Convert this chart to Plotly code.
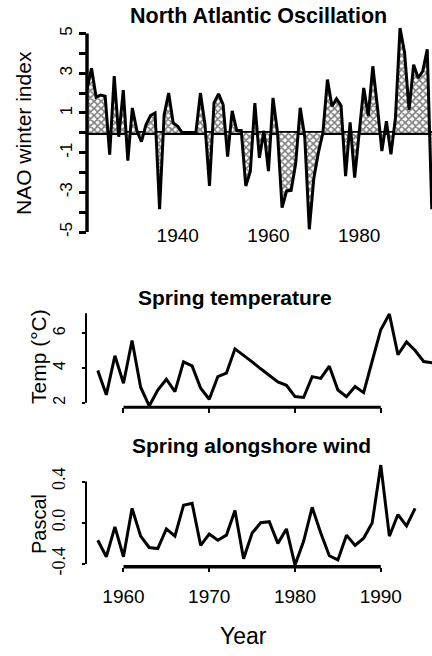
import plotly.graph_objects as go

# ---- data -------------------------------------------------------------
nao_years = list(range(1920, 1997))
nao_index = [2.2, 3.25, 1.8, 1.9, 1.84, -1.1, 2.85, -0.2, 2.15, -1.4,
             1.25, 0.1, -0.45, 0.4, 0.87, 1.0, -3.85, 0.9, 2.0, 0.5,
             0.33, 0.0, 0.0, 0.0, 0.0, 2.0, 0.42, -2.68, 1.5, 1.96,
             1.42, -1.2, 1.1, 0.12, 0.12, -2.68, -1.95, 1.5, -1.26, 0.1,
             -1.93, 1.76, 0.0, -3.77, -2.93, -2.9, -1.55, 1.26, -0.2, -4.86,
             -2.3, -1.0, 0.0, 2.68, 1.34, 1.71, 1.37, -2.18, 0.53, -2.26,
             0.2, 2.26, 0.84, 3.35, 1.34, -0.92, 0.58, -1.09, 0.76, 5.28,
             4.05, 1.15, 3.43, 2.76, 3.1, 4.2, -3.85]

temp_years = list(range(1957, 1997))
spring_temp = [3.85, 2.45, 4.7, 3.12, 5.58, 2.89, 1.81, 2.73, 3.35, 2.64,
               4.35, 4.12, 2.83, 2.2, 3.5, 3.7, 5.1, 4.75, 4.35, 3.95,
               3.55, 3.2, 3.0, 2.35, 2.3, 3.5, 3.4, 4.1, 2.73, 2.35,
               2.93, 2.58, 4.4, 6.2, 7.1, 4.76, 5.5, 5.0, 4.37, 4.3]

wind_years = list(range(1957, 1995))
alongshore_wind = [-0.17, -0.33, -0.04, -0.33, 0.14, -0.13, -0.24, -0.25, -0.06, -0.13,
                   0.17, 0.19, -0.22, -0.11, -0.17, -0.12, 0.12, -0.35, -0.10, 0.0,
                   0.01, -0.2, -0.06, -0.41, -0.18, 0.15, -0.10, -0.32, -0.36, -0.12,
                   -0.22, -0.15, 0.0, 0.56, -0.13, 0.08, -0.03, 0.14]

nao_ticks = list(range(-5, 6))
nao_ticktext = ["-5", "", "-3", "", "-1", "", "1", "", "3", "", "5"]
decade_ticks = [1960, 1970, 1980, 1990]

# ---- page geometry (pixels) ---------------------------------------------
W, H = 432, 656


def fx(p):
    return p / W


def fy(p):
    return 1 - p / H


SANS = "Liberation Sans, Arial, sans-serif"
SERIF = "Liberation Serif, Times New Roman, serif"

fig = go.Figure()

fig.add_trace(go.Scatter(
    x=nao_years, y=nao_index, mode="lines",
    line=dict(color="black", width=3),
    fill="tozeroy",
    fillpattern=dict(shape="x", size=5, solidity=0.55,
                     fgcolor="black", bgcolor="white"),
    xaxis="x", yaxis="y", hoverinfo="skip"))

fig.add_trace(go.Scatter(
    x=temp_years, y=spring_temp, mode="lines",
    line=dict(color="black", width=3),
    xaxis="x2", yaxis="y2", hoverinfo="skip"))

fig.add_trace(go.Scatter(
    x=wind_years, y=alongshore_wind, mode="lines",
    line=dict(color="black", width=3),
    xaxis="x3", yaxis="y3", hoverinfo="skip"))

axis_common = dict(showgrid=False, zeroline=False, showline=False)

fig.update_layout(
    width=W, height=H,
    margin=dict(l=0, r=0, t=0, b=0),
    paper_bgcolor="white", plot_bgcolor="white",
    showlegend=False,
    font=dict(family=SANS, color="black"),
    # NAO panel
    xaxis=dict(axis_common, domain=[fx(87), 1], range=[1920, 1996.05],
               anchor="free", position=fy(222), ticks="",
               tickvals=[1940, 1960, 1980],
               tickfont=dict(family=SANS, size=19)),
    yaxis=dict(showgrid=False, showline=False,
               zeroline=True, zerolinecolor="black", zerolinewidth=3.5,
               domain=[fy(238), fy(23.6)],
               range=[-5.3, 5.5], anchor="x",
               tickvals=nao_ticks, ticktext=nao_ticktext,
               ticks="outside", ticklen=7, tickwidth=2.5, tickcolor="black",
               tickangle=-90, tickfont=dict(family=SANS, size=17)),
    yaxis4=dict(axis_common, overlaying="y", side="left", anchor="x",
                range=[-5.3, 5.5], tickvals=nao_ticks,
                ticks="inside", ticklen=5, tickwidth=2.5, tickcolor="black",
                showticklabels=False),
    # temperature panel
    xaxis2=dict(axis_common, domain=[fx(86), 1], range=[1955.63, 1995.97],
                anchor="free", position=fy(407.3),
                tickvals=decade_ticks, ticks="outside", ticklen=5,
                tickwidth=2, tickcolor="black", showticklabels=False),
    yaxis2=dict(axis_common, domain=[fy(407.9), fy(308)],
                range=[1.7, 7.45], anchor="x2",
                tickvals=[2, 4, 6], ticks="outside", ticklen=3,
                tickwidth=1.5, tickcolor="black", tickangle=-90,
                ticklabelstandoff=11,
                tickfont=dict(family=SANS, size=16)),
    # wind panel
    xaxis3=dict(axis_common, domain=[fx(86), 1], range=[1955.63, 1995.97],
                anchor="free", position=fy(566.7),
                tickvals=decade_ticks, ticks="outside", ticklen=4,
                tickwidth=2, tickcolor="black", ticklabelstandoff=8,
                tickfont=dict(family=SANS, size=19)),
    yaxis3=dict(axis_common, domain=[fy(574.3), fy(458.9)],
                range=[-0.5, 0.62], anchor="x3",
                tickvals=[-0.4, 0.0, 0.4], ticktext=["-0.4", "0.0", "0.4"],
                ticks="outside", ticklen=3, tickwidth=1.5, tickcolor="black",
                tickangle=-90, ticklabelstandoff=10,
                tickfont=dict(family=SERIF, size=18)),
)

# axis lines that cover only part of each panel
shapes = [
    dict(type="line", xref="paper", yref="y", x0=fx(87), x1=fx(87),
         y0=-5, y1=5, line=dict(color="black", width=3.5)),
    dict(type="line", xref="paper", yref="y2", x0=fx(86), x1=fx(86),
         y0=2, y1=7.15, line=dict(color="black", width=2)),
    dict(type="line", xref="x2", yref="paper", x0=1960, x1=1990,
         y0=fy(407.3), y1=fy(407.3), line=dict(color="black", width=3)),
    dict(type="line", xref="paper", yref="y3", x0=fx(86), x1=fx(86),
         y0=-0.4, y1=0.4, line=dict(color="black", width=2)),
    dict(type="line", xref="x3", yref="paper", x0=1960, x1=1990,
         y0=fy(566.7), y1=fy(566.7), line=dict(color="black", width=3.5)),
]
fig.update_layout(shapes=shapes)

# titles and axis captions
labels = [
    ("<b>North Atlantic Oscillation</b>", 258, 16.5, 21.5, 0),
    ("<b>Spring temperature</b>", 235, 297, 21, 0),
    ("<b>Spring alongshore wind</b>", 251.5, 445, 21, 0),
    ("NAO winter index", 23, 133, 21, -90),
    ("Temp (°C)", 38, 357, 21, -90),
    ("Pascal", 39, 524, 20, -90),
    ("Year", 243, 636, 23, 0),
]
fig.update_layout(annotations=[
    dict(text=t, x=fx(x), y=fy(y), xref="paper", yref="paper",
         xanchor="center", yanchor="middle", showarrow=False,
         textangle=a, font=dict(family=SANS, size=s, color="black"))
    for t, x, y, s, a in labels
])

fig.write_html("out.html")
